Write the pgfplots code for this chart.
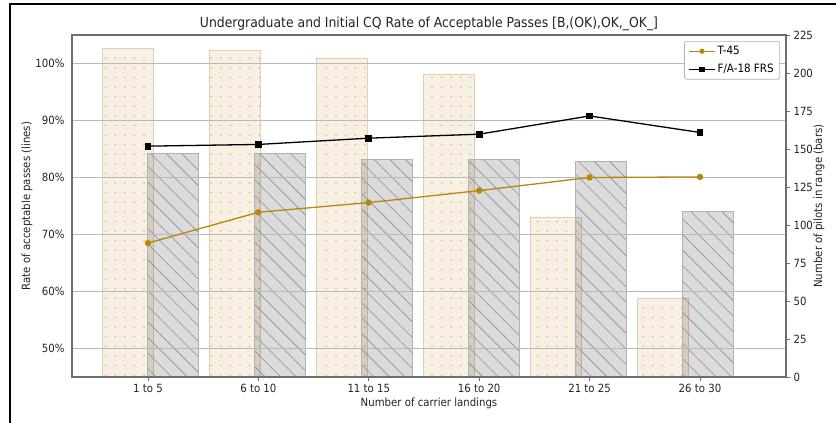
\documentclass[border=0pt]{standalone}
\usepackage{fontspec}
\setmainfont{DejaVu Sans Condensed}
\usepackage{pgfplots}
\pgfplotsset{compat=1.18}
\usetikzlibrary{patterns.meta}

\definecolor{cream}{RGB}{248,240,226}
\definecolor{dotc}{RGB}{195,175,145}
\definecolor{tanedge}{RGB}{225,208,175}
\definecolor{hatchc}{RGB}{140,140,152}
\definecolor{goldline}{RGB}{184,134,11}
\definecolor{spine}{RGB}{110,110,110}
\definecolor{txt}{RGB}{35,35,35}

\pgfplotsset{
  common/.style={
    scale only axis, width=714pt, height=342pt,
    /pgf/number format/assume math mode=true,
    axis line style={draw=spine, line width=1.1pt},
    tick style={draw=spine, line width=0.9pt},
    tick align=outside,
    major tick length=4pt,
    font=\fontsize{11.3}{13}\selectfont,
    every tick label/.append style={text=txt},
  },
}

\begin{document}
\begin{tikzpicture}
% bars: number of pilots, right axis
\begin{axis}[common,
  ybar, bar width=51pt,
  xmin=-0.7313, xmax=5.9416, ymin=0, ymax=225,
  axis x line=none, axis y line*=right,
  ytick={0,25,...,225},
  ylabel={Number of pilots in range (bars)},
  every axis y label/.style={at={(axis description cs:1,0.5)}, xshift=33pt, rotate=90, anchor=center, text=txt},
]
\addplot[bar shift=-22.25pt, fill=cream, draw=tanedge, line width=0.5pt,
  postaction={pattern={Dots[distance=9.6pt, radius=0.8pt]}, pattern color=dotc}]
  coordinates {(0,216) (1,215) (2,210) (3,199) (4,105) (5,52)};
\addplot[bar shift=22.25pt, fill=black, fill opacity=0.14, draw=black!30, line width=0.5pt,
  postaction={pattern={Lines[angle=-45, distance=11pt, line width=0.6pt]}, pattern color=hatchc, fill opacity=0.35}]
  coordinates {(0,147) (1,147) (2,143) (3,143) (4,142) (5,109)};
\end{axis}

% lines: rate of acceptable passes, left axis
\begin{axis}[common, name=lines,
  xmin=-0.688, xmax=5.779, ymin=45, ymax=105,
  xtick={0,...,5},
  xticklabels={1 to 5, 6 to 10, 11 to 15, 16 to 20, 21 to 25, 26 to 30},
  xtick pos=bottom, ytick pos=left,
  ytick={50,60,...,100},
  yticklabels={50\%,60\%,70\%,80\%,90\%,100\%},
  y tick style={draw=none},
  ymajorgrids, major grid style={draw=gray!55, line width=0.9pt},
  ylabel={Rate of acceptable passes (lines)},
  every axis y label/.style={at={(axis description cs:0,0.5)}, xshift=-45pt, rotate=90, anchor=center, text=txt},
  xlabel={Number of carrier landings},
  every axis x label/.style={at={(axis description cs:0.5,0)}, anchor=center, yshift=-26pt, text=txt},
  title={Undergraduate and Initial CQ Rate of Acceptable Passes [B,(OK),OK,\_OK\_]},
  title style={at={(axis description cs:0.5,1)}, anchor=base, yshift=2pt, text=txt, font=\fontsize{13.8}{16}\selectfont},
  legend style={at={(axis description cs:1,1)}, anchor=north east, xshift=-6pt, yshift=-6pt,
    draw=gray!60, fill=white, line width=0.6pt, rounded corners=1.5pt, font=\fontsize{11.5}{13}\selectfont,
    inner xsep=4pt, inner ysep=3pt, row sep=4pt},
  legend cell align=left,
  legend image code/.code={\draw[mark repeat=2,mark phase=2, line width=1.1pt, mark size=2pt] plot coordinates {(0pt,0pt)(13pt,0pt)(26pt,0pt)};},
]
\addplot[color=goldline, line width=1.3pt, mark=*, mark size=2.5pt, mark options={fill=goldline}]
  coordinates {(0,68.5) (1,73.9) (2,75.6) (3,77.7) (4,80.0) (5,80.1)};
\addplot[color=black, line width=1.3pt, mark=square*, mark size=2.7pt]
  coordinates {(0,85.5) (1,85.8) (2,86.9) (3,87.6) (4,90.8) (5,87.9)};
\legend{T-45, F/A-18 FRS}
\end{axis}

\draw[line width=2.6pt] ([xshift=-62pt,yshift=-60pt]lines.south west) -- ([xshift=-62pt,yshift=373pt]lines.south west) -- ([xshift=780pt,yshift=373pt]lines.south west);
\pgfresetboundingbox
\path[use as bounding box] ([xshift=-72pt,yshift=-46pt]lines.south west) rectangle ([xshift=764pt,yshift=377pt]lines.south west);
\end{tikzpicture}
\end{document}
